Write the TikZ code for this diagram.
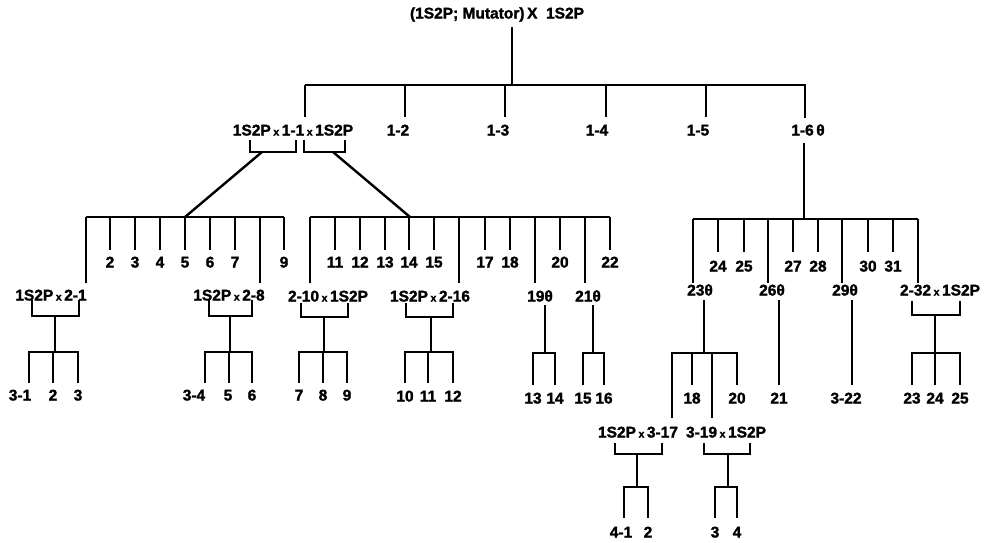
\documentclass[tikz,border=0pt]{standalone}
\usepackage{fontspec}
\setmainfont{Liberation Sans}[BoldFeatures={FakeBold=1.6}]
\newcommand\crs{\,{\fontsize{10.5}{10.5}\selectfont x}\,}
\newcommand\slf{θ}
\begin{document}
\begin{tikzpicture}[x=1pt,y=-1pt,
  lbl/.style={font=\bfseries\fontsize{15.5}{15.5}\selectfont, inner sep=0pt, text height=11pt, text depth=0pt},
  ln/.style={line width=2.4pt}]
\useasboundingbox (0,0) rectangle (984,542);
% generation 1
\node[lbl] (top) at (497,13) {(1S2P; Mutator)\,X\ \ 1S2P};
\node[lbl] (g11) at (293,130) {1S2P\crs 1-1\crs 1S2P};
\node[lbl] (g12) at (398,130) {1-2};
\node[lbl] (g13) at (498,130) {1-3};
\node[lbl] (g14) at (597,130) {1-4};
\node[lbl] (g15) at (698,130) {1-5};
\node[lbl] (g16) at (808,130) {1-6\,\slf};
\draw[ln] (512,27) -- (512,85);
\draw[ln] (305,85) -- (806,85);
\draw[ln] (305,85) -- (305,117);
\foreach \x in {405,505,606,706} \draw[ln] (\x,85) -- (\x,117);
\draw[ln] (805,85) -- (805,118);
\draw[ln] (804,143) -- (804,219);
% brackets under 1-1
\draw[ln] (250,140) -- (250,152) -- (296,152) -- (296,140);
\draw[ln] (304,140) -- (304,152) -- (345,152) -- (345,140);
\draw[ln] (262,152) -- (185,217);
\draw[ln] (333,152) -- (410,217);
% left generation 2
\draw[ln] (86,217) -- (284,217);
\foreach \x in {86,260} \draw[ln] (\x,217) -- (\x,283);
\foreach \x in {110,135,160,185,210,235,284} \draw[ln] (\x,217) -- (\x,250);
\foreach \x/\t in {110/2,135/3,160/4,185/5,210/6,235/7,284/9} \node[lbl] (l\t) at (\x,262) {\t};
\node[lbl] (l21) at (51,295) {1S2P\crs 2-1};
\node[lbl] (l28) at (229,295) {1S2P\crs 2-8};
% right generation 2 (from 1-1 x 1S2P)
\draw[ln] (310,217) -- (610,217);
\foreach \x in {310,459,535,585} \draw[ln] (\x,217) -- (\x,283);
\foreach \x in {335,360,385,409,434,485,510,560,610} \draw[ln] (\x,217) -- (\x,250);
\foreach \x/\t in {335/11,360/12,385/13,409/14,434/15,485/17,510/18,560/20,610/22} \node[lbl] (r\t) at (\x,262) {\t};
\node[lbl] (r210) at (328,296) {2-10\crs 1S2P};
\node[lbl] (r216) at (430,296) {1S2P\crs 2-16};
\node[lbl] (r19) at (540,296) {19\slf};
\node[lbl] (r21) at (588,296) {21\slf};
% generation 3 left
\draw[ln] (32,300) -- (32,316) -- (79,316) -- (79,300);
\draw[ln] (55,316) -- (55,352);
\draw[ln] (29,383) -- (29,352) -- (78,352) -- (78,383);
\draw[ln] (53,352) -- (53,383);
\node[lbl] (a1) at (20,395) {3-1};
\node[lbl] (a2) at (53,395) {2};
\node[lbl] (a3) at (78,395) {3};
\draw[ln] (209,300) -- (209,316) -- (252,316) -- (252,300);
\draw[ln] (230,316) -- (230,352);
\draw[ln] (205,383) -- (205,352) -- (252,352) -- (252,383);
\draw[ln] (229,352) -- (229,383);
\node[lbl] (b4) at (194,395) {3-4};
\node[lbl] (b5) at (228,395) {5};
\node[lbl] (b6) at (252,395) {6};
\draw[ln] (301,303) -- (301,317) -- (348,317) -- (348,303);
\draw[ln] (324,317) -- (324,352);
\draw[ln] (299,383) -- (299,352) -- (347,352) -- (347,383);
\draw[ln] (323,352) -- (323,383);
\node[lbl] (c7) at (299,395) {7};
\node[lbl] (c8) at (323,395) {8};
\node[lbl] (c9) at (347,395) {9};
\draw[ln] (406,303) -- (406,317) -- (453,317) -- (453,303);
\draw[ln] (431,317) -- (431,352);
\draw[ln] (405,383) -- (405,352) -- (453,352) -- (453,383);
\draw[ln] (428,352) -- (428,383);
\node[lbl] (d10) at (405,396) {10};
\node[lbl] (d11) at (428,396) {11};
\node[lbl] (d12) at (453,396) {12};
\draw[ln] (545,305) -- (545,353);
\draw[ln] (533,385) -- (533,353) -- (555,353) -- (555,385);
\node[lbl] (e13) at (533,398) {13};
\node[lbl] (e14) at (555,398) {14};
\draw[ln] (593,305) -- (593,353);
\draw[ln] (583,385) -- (583,353) -- (604,353) -- (604,385);
\node[lbl] (f15) at (583,398) {15};
\node[lbl] (f16) at (604,398) {16};
% right generation 2 (from 1-6)
\draw[ln] (693,219) -- (918,219);
\foreach \x in {693,768,842,918} \draw[ln] (\x,219) -- (\x,283);
\foreach \x in {718,744,793,818,868,893} \draw[ln] (\x,219) -- (\x,252);
\foreach \x/\t in {718/24,744/25,793/27,818/28,868/30,893/31} \node[lbl] (s\t) at (\x,266) {\t};
\node[lbl] (s23) at (700,290) {23\slf};
\node[lbl] (s26) at (772,290) {26\slf};
\node[lbl] (s29) at (845,290) {29\slf};
\node[lbl] (s232) at (940,290) {2-32\crs 1S2P};
% generation 3 right
\draw[ln] (704,300) -- (704,353);
\draw[ln] (672,418) -- (672,353) -- (737,353) -- (737,385);
\draw[ln] (692,353) -- (692,385);
\draw[ln] (712,353) -- (712,418);
\node[lbl] (t18) at (692,398) {18};
\node[lbl] (t20) at (737,398) {20};
\draw[ln] (779,300) -- (779,385);
\node[lbl] (t21) at (779,398) {21};
\draw[ln] (852,300) -- (852,385);
\node[lbl] (t322) at (846,398) {3-22};
\draw[ln] (912,301) -- (912,315) -- (960,315) -- (960,301);
\draw[ln] (935,315) -- (935,353);
\draw[ln] (912,385) -- (912,353) -- (960,353) -- (960,385);
\draw[ln] (935,353) -- (935,385);
\node[lbl] (u23) at (912,398) {23};
\node[lbl] (u24) at (935,398) {24};
\node[lbl] (u25) at (960,398) {25};
% generation 4
\node[lbl] (v317) at (638,432) {1S2P\crs 3-17};
\node[lbl] (v319) at (726,432) {3-19\crs 1S2P};
\draw[ln] (615,443) -- (615,454) -- (662,454) -- (662,443);
\draw[ln] (637,454) -- (637,487);
\draw[ln] (624,518) -- (624,487) -- (648,487) -- (648,518);
\node[lbl] (w41) at (621,532) {4-1};
\node[lbl] (w2) at (648,532) {2};
\draw[ln] (704,443) -- (704,454) -- (750,454) -- (750,443);
\draw[ln] (728,454) -- (728,487);
\draw[ln] (715,518) -- (715,487) -- (737,487) -- (737,518);
\node[lbl] (w3) at (715,532) {3};
\node[lbl] (w4) at (737,532) {4};
\end{tikzpicture}
\end{document}
